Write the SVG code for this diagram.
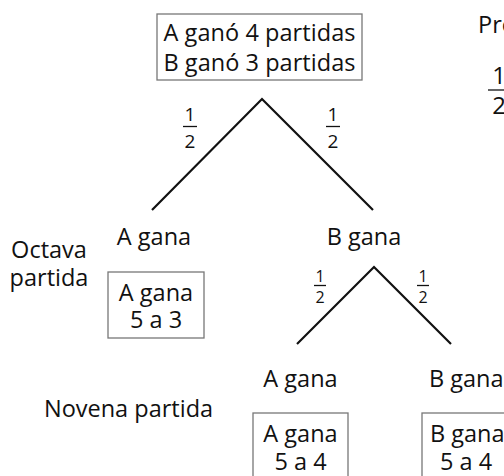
<svg xmlns="http://www.w3.org/2000/svg" width="504" height="476" viewBox="0 0 504 476">
<style>
text{font-family:"Open Sans","Noto Sans","DejaVu Sans",sans-serif;fill:#111;font-size:23.5px}
.c{text-anchor:middle}
.f{font-size:19px;text-anchor:middle}
.box{fill:#fff;stroke:#777;stroke-width:1.3}
.edge{stroke:#111;stroke-width:2.2;fill:none}
.bar{stroke:#111;stroke-width:1.3}
</style>
<rect width="504" height="476" fill="#fff"/>
<g id="root">
<rect class="box" x="157" y="14" width="205" height="66"/>
<text class="c" x="259.5" y="41" textLength="192">A ganó 4 partidas</text>
<text class="c" x="259.5" y="71" textLength="192">B ganó 3 partidas</text>
</g>
<g id="prob">
<text x="478" y="33">Pro</text>
<text class="c" x="499" y="84" style="font-size:24px">1</text>
<line class="bar" x1="488" y1="90" x2="504" y2="90"/>
<text class="c" x="499" y="114" style="font-size:24px">2</text>
</g>
<g id="connectors">
<path class="edge" d="M152,210 L262,99 L373,210"/>
<path class="edge" d="M297,344 L374,267 L451,344"/>
<g id="probs">
<text class="f" x="190" y="121">1</text>
<line class="bar" x1="183" y1="126.5" x2="197" y2="126.5"/>
<text class="f" x="190" y="148">2</text>
<text class="f" x="333" y="121">1</text>
<line class="bar" x1="326" y1="126.5" x2="340" y2="126.5"/>
<text class="f" x="333" y="148">2</text>
<text class="f" x="320" y="282" style="font-size:16px">1</text>
<line class="bar" x1="314" y1="285.5" x2="326" y2="285.5"/>
<text class="f" x="320" y="303" style="font-size:16px">2</text>
<text class="f" x="423" y="282" style="font-size:16px">1</text>
<line class="bar" x1="417" y1="285.5" x2="429" y2="285.5"/>
<text class="f" x="423" y="303" style="font-size:16px">2</text>
</g>
</g>
<g id="level-labels">
<text class="c" x="49" y="258">Octava</text>
<text class="c" x="49" y="286">partida</text>
<text class="c" x="128.5" y="417">Novena partida</text>
</g>
<g id="a8">
<text class="c" x="154" y="245">A gana</text>
<rect class="box" x="108" y="272" width="96" height="66"/>
<text class="c" x="156" y="301">A gana</text>
<text class="c" x="156" y="328">5 a 3</text>
</g>
<g id="b8">
<text class="c" x="364" y="245">B gana</text>
</g>
<g id="a9">
<text class="c" x="300.5" y="387">A gana</text>
<rect class="box" x="253" y="413" width="95" height="70"/>
<text class="c" x="300.5" y="442">A gana</text>
<text class="c" x="300.5" y="470">5 a 4</text>
</g>
<g id="b9">
<text x="429" y="387">B gana</text>
<rect class="box" x="422" y="413" width="95" height="70"/>
<text x="430" y="442">B gana</text>
<text x="440" y="470">5 a 4</text>
</g>
</svg>
